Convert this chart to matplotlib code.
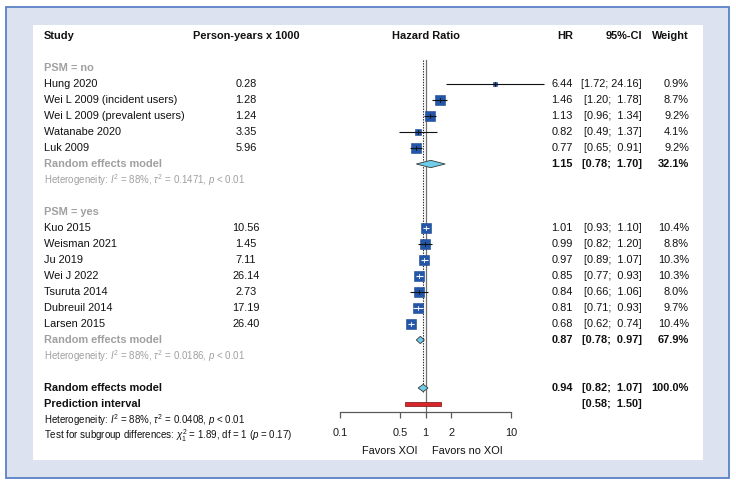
import matplotlib
matplotlib.use('Agg')
import matplotlib.pyplot as plt
import matplotlib.transforms as mtransforms
from matplotlib.patches import Rectangle, Polygon
from matplotlib.ticker import NullLocator, FixedLocator, FixedFormatter
import numpy as np

plt.rcParams['font.family'] = ['Liberation Sans', 'DejaVu Sans']
plt.rcParams['mathtext.fontset'] = 'custom'
plt.rcParams['mathtext.rm'] = 'Liberation Sans'
plt.rcParams['mathtext.it'] = 'Liberation Sans:italic'
plt.rcParams['mathtext.bf'] = 'Liberation Sans:bold'
plt.rcParams['mathtext.sf'] = 'Liberation Sans'

# ---------------- data ----------------
group_labels = ["PSM = no", "PSM = yes"]

studies_no = ["Hung 2020", "Wei L 2009 (incident users)", "Wei L 2009 (prevalent users)",
              "Watanabe 2020", "Luk 2009"]
py_no = ["0.28", "1.28", "1.24", "3.35", "5.96"]
hr_no = [6.44, 1.46, 1.13, 0.82, 0.77]
lo_no = [1.72, 1.20, 0.96, 0.49, 0.65]
hi_no = [24.16, 1.78, 1.34, 1.37, 0.91]
w_no = [0.9, 8.7, 9.2, 4.1, 9.2]

studies_yes = ["Kuo 2015", "Weisman 2021", "Ju 2019", "Wei J 2022", "Tsuruta 2014",
               "Dubreuil 2014", "Larsen 2015"]
py_yes = ["10.56", "1.45", "7.11", "26.14", "2.73", "17.19", "26.40"]
hr_yes = [1.01, 0.99, 0.97, 0.85, 0.84, 0.81, 0.68]
lo_yes = [0.93, 0.82, 0.89, 0.77, 0.66, 0.71, 0.62]
hi_yes = [1.10, 1.20, 1.07, 0.93, 1.06, 0.93, 0.74]
w_yes = [10.4, 8.8, 10.3, 10.3, 8.0, 9.7, 10.4]

re_no = [1.15, 0.78, 1.70, 32.1]
re_yes = [0.87, 0.78, 0.97, 67.9]
re_all = [0.94, 0.82, 1.07, 100.0]
pred_int = [0.58, 1.50]

het_no = ["88%", "0.1471", "< 0.01"]
het_yes = ["88%", "0.0186", "< 0.01"]
het_all = ["88%", "0.0408", "< 0.01"]
subgroup_test = ["1.89", "1", "0.17"]

tick_vals = [0.1, 0.5, 1, 2, 10]
tick_labels = ["0.1", "0.5", "1", "2", "10"]
label_left = "Favors XOI"
label_right = "Favors no XOI"

# ---------------- layout ----------------
W, H = 736, 486
DPI = 100
fig = plt.figure(figsize=(W / DPI, H / DPI), dpi=DPI)
fig.patch.set_facecolor('white')

def fx(px):
    return px / W

def fy(py):
    return 1 - py / H

ROW0, ROWH = 36, 16  # y pixel of header row and row height
AX_TOP, AX_BOT = 36, 412
X01, X10 = 340, 511

fig.patches.append(Rectangle((fx(6), fy(478)), fx(729) - fx(6), fy(7) - fy(478),
                             transform=fig.transFigure, facecolor='#dde2f0',
                             edgecolor='#5a80c6', lw=1.3, zorder=-10))
fig.patches.append(Rectangle((fx(33), fy(460)), fx(703) - fx(33), fy(25) - fy(460),
                             transform=fig.transFigure, facecolor='white',
                             edgecolor='none', zorder=-9))

ax = fig.add_axes([fx(X01), fy(AX_BOT), fx(X10) - fx(X01), (AX_BOT - AX_TOP) / H])
ax.patch.set_visible(False)
ax.set_zorder(5)
ax.set_xscale('log')
ax.set_xlim(0.1, 10)
ymax = (AX_BOT - ROW0) / ROWH
ax.set_ylim(ymax, 0)
ax.xaxis.set_major_locator(FixedLocator(tick_vals))
ax.xaxis.set_major_formatter(FixedFormatter(tick_labels))
ax.xaxis.set_minor_locator(NullLocator())
ax.set_yticks([])
for s in ['top', 'left', 'right']:
    ax.spines[s].set_visible(False)
ax.spines['bottom'].set_color('#5a5a5a')
ax.spines['bottom'].set_linewidth(0.9)
ax.tick_params(axis='x', direction='out', length=4, width=0.9, color='#5a5a5a',
               labelsize=7.9, pad=7.5, labelcolor='#1a1a1a')

px_per_dec = (X10 - X01) / 2.0

trans = mtransforms.blended_transform_factory(fig.transFigure, ax.transData)

FS = 7.9
FS_SMALL = 7.0
GRAY = '#a0a0a0'
SQ = '#2456a8'
DIA = '#6fcdea'
TXT = '#111111'

X_STUDY = fx(44)
X_PY = fx(246)
X_HR = fx(573)
X_CI = fx(642)
X_W = fx(689)

def put(x, r, s, ha='left', color=TXT, bold=False, size=FS):
    ax.text(x, r, s, transform=trans, ha=ha, va='center', color=color,
            fontsize=size, fontweight='bold' if bold else 'normal', clip_on=False)

def ci_str(lo, hi):
    return f"[{lo:.2f}; {hi:5.2f}]"

# header
put(X_STUDY, 0, "Study", bold=True)
put(X_PY, 0, "Person-years x 1000", ha='center', bold=True)
ax.text(1, 0, "Hazard Ratio", ha='center', va='center', fontsize=FS, fontweight='bold',
        color=TXT, clip_on=False)
put(X_HR, 0, "HR", ha='right', bold=True)
put(X_CI, 0, "95%-CI", ha='right', bold=True)
put(X_W, 0, "Weight", ha='right', bold=True)

def draw_study(r, name, py, hr, lo, hi, w):
    put(X_STUDY, r, name)
    put(X_PY, r, py, ha='center')
    put(X_HR, r, f"{hr:.2f}", ha='right')
    put(X_CI, r, ci_str(lo, hi), ha='right')
    put(X_W, r, f"{w:.1f}%", ha='right')
    side_px = 3.39 * np.sqrt(w)
    ax.plot([hr], [r], marker='s', ms=side_px * 72 / DPI, color=SQ, mec='#1c4690',
            mew=0.4, zorder=3, clip_on=False)
    half = side_px / 2 / px_per_dec
    inside = (np.log10(lo) > np.log10(hr) - half) and (np.log10(hi) < np.log10(hr) + half)
    col = 'white' if inside else '#111111'
    ax.plot([lo, hi], [r, r], color=col, lw=0.8, zorder=4, clip_on=False,
            solid_capstyle='butt')
    ax.plot([hr, hr], [r - 0.13, r + 0.13], color=col, lw=0.6, zorder=4, clip_on=False)

def draw_diamond(r, est, lo, hi):
    h = 0.23
    poly = Polygon([(lo, r), (est, r - h), (hi, r), (est, r + h)], closed=True,
                   facecolor=DIA, edgecolor='#3a3a3a', lw=0.6, zorder=5, clip_on=False)
    ax.add_patch(poly)

def het_text(vals):
    i2, t2, p = vals
    return (r"Heterogeneity: $\mathit{I}^{2}$ = " + i2 + r", $\tau^{2}$ = " + t2 +
            r", $\mathit{p}$ " + p)

# reference lines
ax.plot([1, 1], [1.5, ymax], color='#707070', lw=0.9, zorder=1, clip_on=False)
ax.plot([re_all[0], re_all[0]], [1.5, 22.3], color='#222222', lw=0.8,
        linestyle=(0, (1.2, 1.2)), zorder=1, clip_on=False)

# group 1
r = 2
put(X_STUDY, r, group_labels[0], color=GRAY, bold=True)
for i in range(len(studies_no)):
    r += 1
    draw_study(r, studies_no[i], py_no[i], hr_no[i], lo_no[i], hi_no[i], w_no[i])
r += 1
put(X_STUDY, r, "Random effects model", color=GRAY, bold=True)
put(X_HR, r, f"{re_no[0]:.2f}", ha='right', bold=True)
put(X_CI, r, ci_str(re_no[1], re_no[2]), ha='right', bold=True)
put(X_W, r, f"{re_no[3]:.1f}%", ha='right', bold=True)
draw_diamond(r, re_no[0], re_no[1], re_no[2])
r += 1
put(X_STUDY, r, het_text(het_no), color=GRAY, size=FS_SMALL)

# group 2
r += 2
put(X_STUDY, r, group_labels[1], color=GRAY, bold=True)
for i in range(len(studies_yes)):
    r += 1
    draw_study(r, studies_yes[i], py_yes[i], hr_yes[i], lo_yes[i], hi_yes[i], w_yes[i])
r += 1
put(X_STUDY, r, "Random effects model", color=GRAY, bold=True)
put(X_HR, r, f"{re_yes[0]:.2f}", ha='right', bold=True)
put(X_CI, r, ci_str(re_yes[1], re_yes[2]), ha='right', bold=True)
put(X_W, r, f"{re_yes[3]:.1f}%", ha='right', bold=True)
draw_diamond(r, re_yes[0], re_yes[1], re_yes[2])
r += 1
put(X_STUDY, r, het_text(het_yes), color=GRAY, size=FS_SMALL)

# overall
r += 2
put(X_STUDY, r, "Random effects model", bold=True)
put(X_HR, r, f"{re_all[0]:.2f}", ha='right', bold=True)
put(X_CI, r, ci_str(re_all[1], re_all[2]), ha='right', bold=True)
put(X_W, r, f"{re_all[3]:.1f}%", ha='right', bold=True)
draw_diamond(r, re_all[0], re_all[1], re_all[2])
r += 1
put(X_STUDY, r, "Prediction interval", bold=True)
put(X_CI, r, ci_str(pred_int[0], pred_int[1]), ha='right', bold=True)
ax.add_patch(Rectangle((pred_int[0], r - 0.12), pred_int[1] - pred_int[0], 0.24,
                       facecolor='#d9262b', edgecolor='#7a1010', lw=0.5, zorder=5,
                       clip_on=False))
r += 1
put(X_STUDY, r, het_text(het_all), size=FS_SMALL)
r += 1
chi, df, pv = subgroup_test
put(X_STUDY, r, r"Test for subgroup differences: $\chi^{2}_{1}$ = " + chi + ", df = " + df +
    r" ($\mathit{p}$ = " + pv + ")", size=FS_SMALL)

# favors labels
fav_r = (451 - ROW0) / ROWH
ax.annotate(label_left, xy=(1, fav_r), xytext=(-6, 0), textcoords='offset points',
            ha='right', va='center', fontsize=FS, color=TXT, annotation_clip=False)
ax.annotate(label_right, xy=(1, fav_r), xytext=(5, 0), textcoords='offset points',
            ha='left', va='center', fontsize=FS, color=TXT, annotation_clip=False)

fig.savefig('out.png', dpi=DPI, facecolor='white')
